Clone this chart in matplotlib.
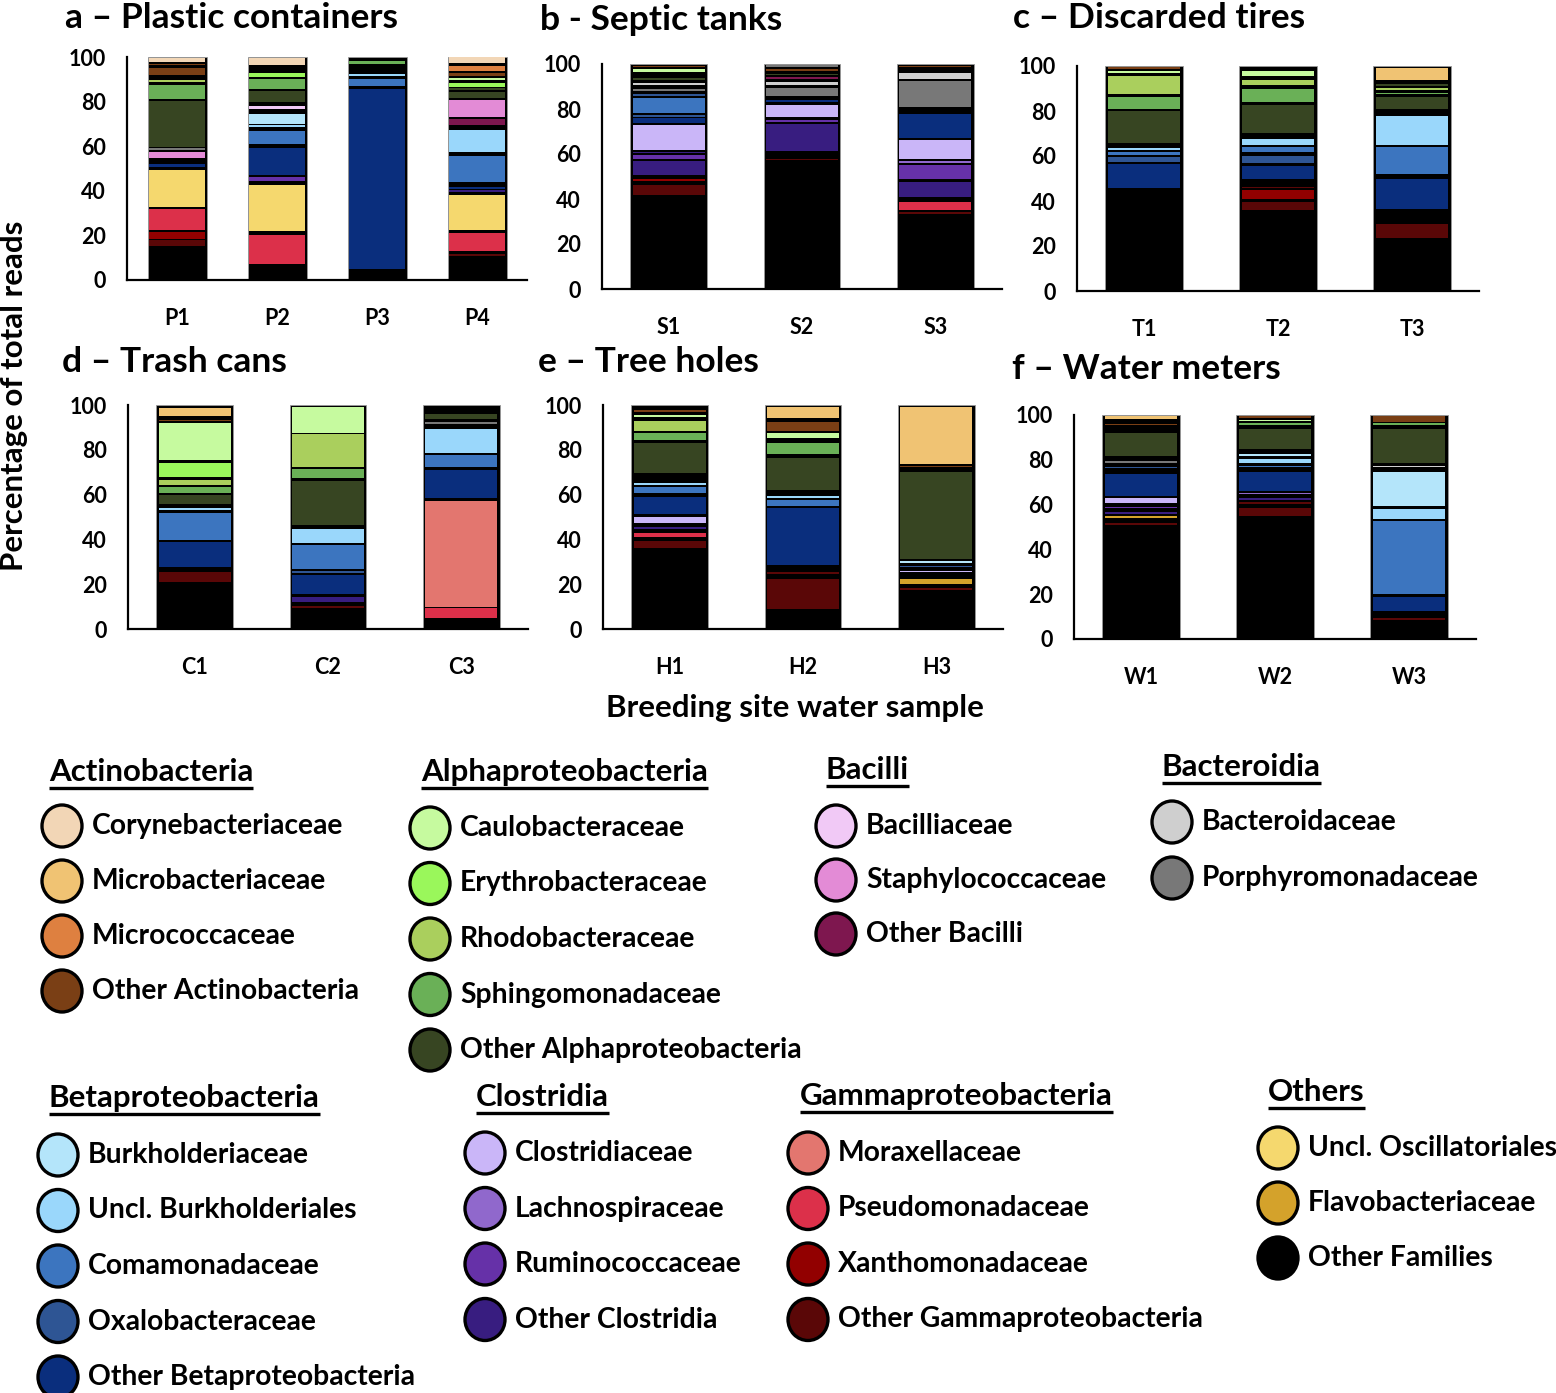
import matplotlib.pyplot as plt
from matplotlib.patches import Ellipse

plt.rcParams['font.family'] = ['Lato', 'DejaVu Sans']
plt.rcParams['font.weight'] = 'bold'

# family code -> (legend name, colour)
fam_name = {
    'cory': 'Corynebacteriaceae', 'micb': 'Microbacteriaceae', 'micc': 'Micrococcaceae',
    'oact': 'Other Actinobacteria',
    'caul': 'Caulobacteraceae', 'eryt': 'Erythrobacteraceae', 'rhod': 'Rhodobacteraceae',
    'sphi': 'Sphingomonadaceae', 'oalp': 'Other Alphaproteobacteria',
    'baci': 'Bacilliaceae', 'stap': 'Staphylococcaceae', 'obac': 'Other Bacilli',
    'bact': 'Bacteroidaceae', 'porp': 'Porphyromonadaceae',
    'burk': 'Burkholderiaceae', 'ubur': 'Uncl. Burkholderiales', 'coma': 'Comamonadaceae',
    'oxal': 'Oxalobacteraceae', 'obet': 'Other Betaproteobacteria',
    'clos': 'Clostridiaceae', 'lach': 'Lachnospiraceae', 'rumi': 'Ruminococcaceae',
    'oclo': 'Other Clostridia',
    'mora': 'Moraxellaceae', 'pseu': 'Pseudomonadaceae', 'xant': 'Xanthomonadaceae',
    'ogam': 'Other Gammaproteobacteria',
    'osci': 'Uncl. Oscillatoriales', 'flav': 'Flavobacteriaceae', 'oth': 'Other Families',
}
fam_color = {
    'cory': '#F2D6B6', 'micb': '#F0C373', 'micc': '#DE8040', 'oact': '#7A3F15',
    'caul': '#C6FA9F', 'eryt': '#9AF75B', 'rhod': '#AACF5D', 'sphi': '#6AB057', 'oalp': '#374522',
    'baci': '#F1C9F6', 'stap': '#E38BD6', 'obac': '#7E174F',
    'bact': '#CFCFCF', 'porp': '#787878',
    'burk': '#B4E5FA', 'ubur': '#9AD7FB', 'coma': '#3C75BF', 'oxal': '#2E5594', 'obet': '#0A2E7D',
    'clos': '#CAB6F8', 'lach': '#9068CC', 'rumi': '#6631A8', 'oclo': '#381D80',
    'mora': '#E3766F', 'pseu': '#DC304A', 'xant': '#920000', 'ogam': '#5A0707',
    'osci': '#F5D86E', 'flav': '#D4A22B', 'oth': '#000000',
}

# segments from bottom to top, (family, % of reads)
P1 = [('oth', 15.2), ('ogam', 2.6), ('oth', 0.8), ('xant', 2.9), ('oth', 0.7), ('pseu', 9.5),
      ('oth', 1.1), ('osci', 16.5), ('oth', 1.2), ('obet', 1.5), ('oth', 2.5), ('stap', 2.8),
      ('oth', 0.9), ('porp', 0.8), ('oth', 0.8), ('oalp', 20.6), ('oth', 0.9), ('sphi', 6.0),
      ('oth', 1.7), ('rhod', 0.8), ('oth', 2.2), ('oact', 3.0), ('oth', 1.2), ('oact', 0.6),
      ('oth', 1.0), ('cory', 1.8), ('oth', 0.4)]
P2 = [('oth', 7.2), ('pseu', 13.2), ('oth', 1.6), ('osci', 20.4), ('oth', 1.8), ('rumi', 1.8),
      ('oth', 1.3), ('obet', 12.1), ('oth', 1.6), ('coma', 6.0), ('oth', 1.5), ('ubur', 0.8),
      ('oth', 0.7), ('burk', 4.3), ('oth', 2.2), ('baci', 1.6), ('oth', 1.6), ('oalp', 5.1),
      ('oth', 0.9), ('sphi', 4.3), ('oth', 1.0), ('eryt', 1.8), ('oth', 3.5), ('cory', 3.4),
      ('oth', 0.3)]
P3 = [('oth', 4.8), ('obet', 80.7), ('oth', 1.4), ('coma', 3.4), ('oth', 1.3), ('ubur', 0.7),
      ('oth', 4.4), ('sphi', 1.3), ('oth', 2.0)]
P4 = [('oth', 10.6), ('ogam', 0.9), ('oth', 1.3), ('pseu', 8.1), ('oth', 1.5), ('osci', 15.5),
      ('oth', 1.6), ('oclo', 0.8), ('oth', 0.7), ('obet', 0.8), ('oth', 2.2), ('coma', 11.8),
      ('oth', 1.4), ('ubur', 10.0), ('oth', 2.5), ('obac', 2.3), ('oth', 1.0), ('stap', 7.6),
      ('oth', 1.2), ('oalp', 2.5), ('oth', 1.1), ('oalp', 0.7), ('oth', 0.5), ('eryt', 1.8),
      ('oth', 1.1), ('caul', 1.2), ('oth', 0.9), ('oact', 1.4), ('oth', 0.7), ('micc', 2.3),
      ('oth', 1.3), ('cory', 2.5), ('oth', 0.2)]

S1 = [('oth', 41.6), ('ogam', 4.7), ('oth', 1.7), ('xant', 0.8), ('oth', 1.8), ('oclo', 6.4),
      ('oth', 0.8), ('rumi', 1.8), ('oth', 0.8), ('oclo', 0.7), ('oth', 0.7), ('clos', 11.2),
      ('oth', 0.8), ('obet', 2.0), ('oth', 0.6), ('oxal', 0.8), ('oth', 1.0), ('coma', 6.8),
      ('oth', 0.8), ('oxal', 0.7), ('oth', 1.5), ('porp', 1.0), ('oth', 1.5), ('bact', 1.0),
      ('oth', 1.5), ('oalp', 0.7), ('oth', 2.7), ('caul', 1.2), ('oth', 0.9), ('oact', 0.7),
      ('oth', 0.8)]
S2 = [('oth', 57.2), ('ogam', 0.7), ('oth', 3.4), ('oclo', 12.2), ('oth', 0.8), ('rumi', 0.8),
      ('oth', 1.5), ('clos', 5.4), ('oth', 1.2), ('obet', 0.8), ('oth', 1.6), ('porp', 3.8),
      ('oth', 1.2), ('bact', 1.6), ('oth', 1.2), ('obac', 0.7), ('oth', 0.9), ('oalp', 0.7),
      ('oth', 1.3), ('oact', 0.7), ('oth', 1.1), ('porp', 0.7), ('oth', 0.5)]
S3 = [('oth', 33.4), ('ogam', 0.8), ('oth', 0.8), ('pseu', 3.6), ('oth', 2.2), ('oclo', 6.7),
      ('oth', 1.3), ('rumi', 6.3), ('oth', 0.9), ('lach', 0.9), ('oth', 0.9), ('clos', 8.5),
      ('oth', 1.0), ('obet', 10.4), ('oth', 3.0), ('porp', 11.8), ('oth', 1.0), ('bact', 2.4),
      ('oth', 2.7), ('oact', 0.7), ('oth', 0.7)]

T1 = [('oth', 46.0), ('obet', 10.4), ('oth', 1.1), ('oxal', 2.1), ('oth', 0.8), ('coma', 1.3),
      ('oth', 0.9), ('ubur', 1.0), ('oth', 2.3), ('oalp', 14.3), ('oth', 0.8), ('sphi', 5.4),
      ('oth', 1.0), ('rhod', 8.1), ('oth', 1.6), ('caul', 0.8), ('oth', 0.9), ('oact', 0.7),
      ('oth', 0.5)]
T2 = [('oth', 36.2), ('ogam', 3.4), ('oth', 1.3), ('xant', 3.9), ('oth', 0.8), ('ogam', 0.6),
      ('oth', 3.4), ('obet', 6.0), ('oth', 1.1), ('oxal', 3.5), ('oth', 1.4), ('coma', 2.2),
      ('oth', 1.2), ('ubur', 2.4), ('oth', 2.9), ('oalp', 12.3), ('oth', 1.2), ('sphi', 6.2),
      ('oth', 1.4), ('rhod', 2.3), ('oth', 1.7), ('caul', 2.4), ('oth', 2.2)]
T3 = [('oth', 23.6), ('ogam', 6.4), ('oth', 6.6), ('obet', 13.4), ('oth', 2.0), ('coma', 11.8),
      ('oth', 1.2), ('ubur', 12.7), ('oth', 3.3), ('oalp', 5.4), ('oth', 1.0), ('sphi', 0.8),
      ('oth', 1.0), ('rhod', 0.8), ('oth', 1.1), ('oalp', 0.8), ('oth', 2.1), ('micb', 5.2),
      ('oth', 0.8)]

C1 = [('oth', 20.8), ('ogam', 4.5), ('oth', 2.5), ('obet', 11.2), ('oth', 0.8), ('coma', 11.9),
      ('oth', 1.5), ('ubur', 0.8), ('oth', 1.6), ('oalp', 4.0), ('oth', 0.9), ('sphi', 3.0),
      ('oth', 1.0), ('rhod', 2.2), ('oth', 1.3), ('eryt', 6.3), ('oth', 1.0), ('caul', 16.7),
      ('oth', 0.7), ('oact', 0.7), ('oth', 1.6), ('micb', 3.8), ('oth', 1.2)]
C2 = [('oth', 9.4), ('ogam', 0.7), ('oth', 1.8), ('oclo', 2.5), ('oth', 1.2), ('obet', 8.4),
      ('oth', 1.2), ('oxal', 0.8), ('oth', 1.0), ('coma', 10.5), ('oth', 0.8), ('ubur', 6.3),
      ('oth', 1.8), ('oalp', 19.7), ('oth', 1.1), ('sphi', 4.4), ('oth', 0.9), ('rhod', 14.5),
      ('oth', 0.7), ('caul', 11.3), ('oth', 1.0)]
C3 = [('oth', 4.8), ('pseu', 4.5), ('oth', 0.7), ('mora', 47.2), ('oth', 1.5), ('obet', 12.3),
      ('oth', 1.4), ('coma', 5.2), ('oth', 0.9), ('ubur', 10.7), ('oth', 2.3), ('porp', 0.8),
      ('oth', 1.3), ('oalp', 2.4), ('oth', 4.0)]

H1 = [('oth', 36.1), ('ogam', 3.0), ('oth', 1.9), ('pseu', 1.8), ('oth', 2.0), ('oclo', 0.9),
      ('oth', 1.8), ('clos', 2.7), ('oth', 1.2), ('obet', 7.7), ('oth', 1.8), ('coma', 2.4),
      ('oth', 0.9), ('ubur', 0.8), ('oth', 4.8), ('oalp', 13.4), ('oth', 1.2), ('sphi', 3.0),
      ('oth', 1.2), ('rhod', 4.4), ('oth', 1.6), ('caul', 0.8), ('oth', 1.4), ('oact', 0.8),
      ('oth', 2.4)]
H2 = [('oth', 8.9), ('ogam', 13.4), ('oth', 2.3), ('ogam', 0.7), ('oth', 3.4), ('obet', 25.3),
      ('oth', 1.0), ('coma', 2.4), ('oth', 1.2), ('ubur', 0.8), ('oth', 2.6), ('oalp', 14.5),
      ('oth', 1.8), ('sphi', 4.7), ('oth', 2.4), ('caul', 2.1), ('oth', 1.1), ('oact', 4.0),
      ('oth', 1.4), ('micb', 5.0), ('oth', 1.0)]
H3 = [('oth', 17.5), ('ogam', 0.7), ('oth', 2.0), ('flav', 2.2), ('oth', 2.9), ('clos', 0.7),
      ('oth', 1.6), ('oxal', 0.7), ('oth', 1.3), ('burk', 0.8), ('oth', 1.0), ('oalp', 38.6),
      ('oth', 2.1), ('oact', 0.7), ('oth', 1.0), ('micb', 25.2), ('oth', 1.0)]

W1 = [('oth', 51.0), ('ogam', 0.7), ('oth', 2.3), ('flav', 0.7), ('oth', 1.2), ('oclo', 0.9),
      ('oth', 1.6), ('rumi', 0.7), ('oth', 1.5), ('clos', 2.4), ('oth', 1.0), ('obet', 9.5),
      ('oth', 2.7), ('oxal', 0.7), ('oth', 1.7), ('porp', 0.7), ('oth', 2.5), ('oalp', 10.0),
      ('oth', 3.6), ('oact', 0.7), ('oth', 1.9), ('micb', 1.7), ('oth', 0.3)]
W2 = [('oth', 55.0), ('ogam', 3.4), ('oth', 1.9), ('ogam', 0.7), ('oth', 1.0), ('oclo', 0.9),
      ('oth', 1.7), ('lach', 0.7), ('oth', 0.7), ('obet', 8.7), ('oth', 1.9), ('coma', 0.7),
      ('oth', 1.1), ('ubur', 1.8), ('oth', 1.6), ('burk', 0.8), ('oth', 2.4), ('oalp', 8.9),
      ('oth', 1.8), ('sphi', 0.7), ('oth', 0.8), ('caul', 0.7), ('oth', 0.8), ('oact', 0.7),
      ('oth', 0.6)]
W3 = [('oth', 8.6), ('ogam', 0.7), ('oth', 3.3), ('obet', 6.2), ('oth', 1.2), ('coma', 32.5),
      ('oth', 1.1), ('ubur', 4.4), ('oth', 1.3), ('burk', 15.4), ('oth', 1.9), ('bact', 0.7),
      ('oth', 1.2), ('oalp', 15.4), ('oth', 1.8), ('sphi', 0.7), ('oth', 0.6), ('oact', 2.6),
      ('oth', 0.4)]

panel_titles = ['a \u2013 Plastic containers', 'b - Septic tanks', 'c \u2013 Discarded tires',
                'd \u2013 Trash cans', 'e \u2013 Tree holes', 'f \u2013 Water meters']
panel_samples = [['P1', 'P2', 'P3', 'P4'], ['S1', 'S2', 'S3'], ['T1', 'T2', 'T3'],
                 ['C1', 'C2', 'C3'], ['H1', 'H2', 'H3'], ['W1', 'W2', 'W3']]
panel_data = [[P1, P2, P3, P4], [S1, S2, S3], [T1, T2, T3],
              [C1, C2, C3], [H1, H2, H3], [W1, W2, W3]]

# legend groups
leg_groups = [
    ('Actinobacteria', ['cory', 'micb', 'micc', 'oact']),
    ('Alphaproteobacteria', ['caul', 'eryt', 'rhod', 'sphi', 'oalp']),
    ('Bacilli', ['baci', 'stap', 'obac']),
    ('Bacteroidia', ['bact', 'porp']),
    ('Betaproteobacteria', ['burk', 'ubur', 'coma', 'oxal', 'obet']),
    ('Clostridia', ['clos', 'lach', 'rumi', 'oclo']),
    ('Gammaproteobacteria', ['mora', 'pseu', 'xant', 'ogam']),
    ('Others', ['osci', 'flav', 'oth']),
]

W, H = 1556, 1393
fig = plt.figure(figsize=(W / 100, H / 100), dpi=100)

# axes boxes in pixels: left, right, top(=100), bottom(=0), title x, title y
boxes = [(127, 527, 57, 280, 65, 18), (602, 1002, 64, 289, 540, 20),
         (1077, 1479, 66, 291, 1013, 18), (128, 528, 405, 629, 62, 362),
         (603, 1003, 405, 629, 538, 362), (1074, 1476, 415, 639, 1012, 369)]

for k in range(6):
    l, r, t, b, tx, ty = boxes[k]
    ax = fig.add_axes([l / W, 1 - b / H, (r - l) / W, (b - t) / H])
    n = len(panel_samples[k])
    bw = 0.59 if n == 4 else 0.575
    for i, segs in enumerate(panel_data[k]):
        total = sum(v for _, v in segs)
        ax.bar(i, total, width=bw, color='black', edgecolor='#9a9a9a', linewidth=0.6, zorder=2)
        bottom = 0
        for code, v in segs:
            if code != 'oth':
                ax.bar(i, v, bottom=bottom, width=bw - 0.035, color=fam_color[code],
                       linewidth=0, zorder=3)
            bottom += v
    ax.set_xlim(-0.5, n - 0.5)
    ax.set_ylim(0, 100)
    ax.set_yticks([0, 20, 40, 60, 80, 100])
    ax.set_xticks(range(n))
    ax.set_xticklabels(panel_samples[k])
    ax.tick_params(axis='both', length=0)
    ax.tick_params(axis='y', labelsize=15.5, pad=15)
    ax.tick_params(axis='x', labelsize=15.5, pad=20)
    for s in ['top', 'right']:
        ax.spines[s].set_visible(False)
    for s in ['left', 'bottom']:
        ax.spines[s].set_linewidth(1.6)
    fig.text(tx / W, 1 - ty / H, panel_titles[k], fontsize=25.5, fontweight='bold',
             ha='left', va='center')

fig.text(14 / W, 1 - 396 / H, 'Percentage of total reads', rotation=90, fontsize=22.5,
         fontweight='bold', ha='center', va='center')
fig.text(795 / W, 1 - 708 / H, 'Breeding site water sample', fontsize=22.5,
         fontweight='bold', ha='center', va='center')

# legend drawn in pixel coordinates
lax = fig.add_axes([0, 0, 1, 1])
lax.set_xlim(0, W)
lax.set_ylim(H, 0)
lax.axis('off')

# heading x, heading y, circle x, first item y, item step
leg_pos = [(49, 772, 62, 826, 55), (421, 772, 430, 828, 55.5), (826, 770, 836, 826, 54),
           (1162, 767, 1172, 822, 56), (49, 1098, 58, 1155, 55.5), (476, 1097, 485, 1153, 55.5),
           (800, 1096, 808, 1153, 55.5), (1268, 1092, 1278, 1148, 55)]

fig.canvas.draw()
renderer = fig.canvas.get_renderer()
for (head, codes), (hx, hy, cx, y0, dy) in zip(leg_groups, leg_pos):
    ht = lax.text(hx, hy, head, fontsize=22.5, fontweight='bold', ha='left', va='center')
    bb = ht.get_window_extent(renderer)
    lax.plot([bb.x0, bb.x1], [hy + 16, hy + 16], color='black', lw=2.4,
             solid_capstyle='butt')
    for j, code in enumerate(codes):
        y = y0 + j * dy
        lax.add_patch(Ellipse((cx, y), 40, 42, facecolor=fam_color[code],
                              edgecolor='black', linewidth=2.4))
        lax.text(cx + 30, y, fam_name[code], fontsize=20.3, fontweight='bold',
                 ha='left', va='center')

fig.savefig('out.png', dpi=100)
